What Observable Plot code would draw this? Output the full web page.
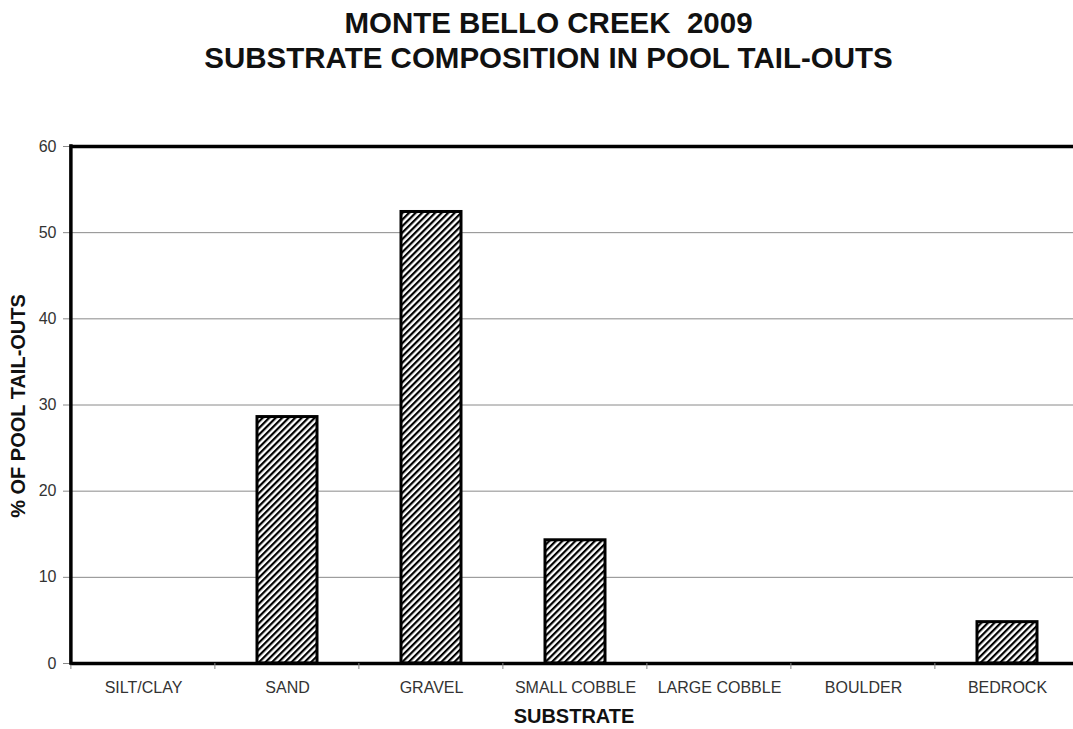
<!DOCTYPE html>
<html><head><meta charset="utf-8">
<script src="https://cdn.jsdelivr.net/npm/d3@7"></script>
<script src="https://cdn.jsdelivr.net/npm/@observablehq/plot@0.6"></script>
<style>
html,body{margin:0;background:#fff;font-family:"Liberation Sans",Arial,sans-serif;overflow:hidden;}
#wrap{position:relative;width:1073px;height:729px;overflow:hidden;background:#fff;}
#title{position:absolute;left:0;top:5px;width:1097px;text-align:center;font-weight:bold;font-size:29.5px;line-height:35px;white-space:pre;color:#111;}
#chart{position:absolute;left:0;top:100px;width:1073px;}
#chart svg{max-width:none !important;width:1073px;height:629px;overflow:hidden;}
#ylab{position:absolute;left:18px;top:406px;transform:translate(-50%,-50%) rotate(-90deg);font-weight:bold;font-size:20px;white-space:nowrap;color:#111;}
#xlab{position:absolute;left:574px;top:716px;transform:translate(-50%,-50%);font-weight:bold;font-size:20px;white-space:nowrap;color:#111;}
</style></head>
<body>
<div id="wrap">
  <div id="title">MONTE BELLO CREEK  2009
SUBSTRATE COMPOSITION IN POOL TAIL-OUTS</div>
  <div id="chart"></div>
  <div id="ylab">% OF POOL TAIL-OUTS</div>
  <div id="xlab">SUBSTRATE</div>
</div>
<script>
const categories = ["SILT/CLAY", "SAND", "GRAVEL", "SMALL COBBLE", "LARGE COBBLE", "BOULDER", "BEDROCK"];
const percents = [0, 28.6, 52.4, 14.3, 0, 0, 4.8];
const yTicks = [0, 10, 20, 30, 40, 50, 60];
const gridTicks = [10, 20, 30, 40, 50];
const frameTicks = [0, 60];

const data = categories.map((c, i) => ({substrate: c, pct: percents[i]}));

const hatchDefs = () => {
  const defs = d3.create("svg:defs");
  const p = defs.append("pattern")
    .attr("id", "hatch")
    .attr("patternUnits", "userSpaceOnUse")
    .attr("width", 4.6).attr("height", 4.6)
    .attr("patternTransform", "rotate(45)");
  p.append("rect").attr("width", 4.6).attr("height", 4.6).attr("fill", "#fff");
  p.append("rect").attr("x", 0).attr("width", 2.2).attr("height", 4.6).attr("fill", "#000");
  return defs.node();
};

const chart = Plot.plot({
  width: 1073,
  height: 629,
  marginTop: 46,
  marginBottom: 66,
  marginLeft: 70,
  marginRight: -7,
  style: {fontFamily: "'Liberation Sans', Arial, sans-serif", fontSize: "16px", color: "#333", background: "transparent", overflow: "hidden"},
  x: {domain: categories, paddingInner: 0.585, paddingOuter: 0.2925, label: null},
  y: {domain: [0, 60], label: null},
  marks: [
    hatchDefs,
    Plot.gridY(gridTicks, {stroke: "#8a8a8a", strokeOpacity: 1, strokeWidth: 1}),
    Plot.axisY(yTicks, {label: null, tickSize: 7, tickPadding: 7, stroke: "#888", fill: "#333", fontSize: 16}),
    Plot.axisX({label: null, tickSize: 0, tickPadding: 18, fill: "#333", fontSize: 16}),
    Plot.barY(data.filter(d => d.pct > 0), {x: "substrate", y: "pct", fill: "url(#hatch)", stroke: "#000", strokeWidth: 3}),
    Plot.ruleY(frameTicks, {stroke: "#000", strokeWidth: 3.5})
  ]
});

// x tick marks at category boundaries and the left frame edge, derived from the scales
const xs = chart.scale("x");
const ys = chart.scale("y");
const step = xs.step;
const start = xs.apply(categories[0]) - xs.paddingInner * step / 2;
const y0 = ys.apply(0);
const yTop = ys.apply(60);
const svg = d3.select(chart);
categories.concat([null]).forEach((c, i) => {
  const xp = start + i * step;
  svg.append("line").attr("x1", xp).attr("x2", xp).attr("y1", y0).attr("y2", y0 + 6)
    .attr("stroke", "#888").attr("stroke-width", 1);
});
svg.append("line").attr("x1", start).attr("x2", start).attr("y1", yTop - 1.75).attr("y2", y0 + 1.75)
  .attr("stroke", "#000").attr("stroke-width", 3.5);

document.getElementById("chart").append(chart);
</script>
</body></html>
